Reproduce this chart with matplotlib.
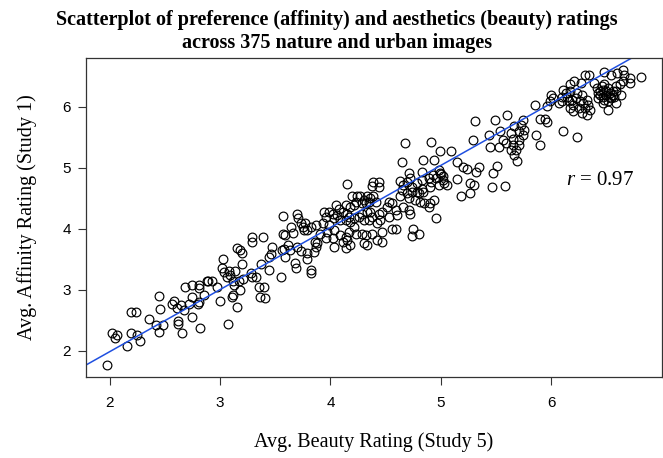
import matplotlib
matplotlib.use('Agg')
import matplotlib.pyplot as plt
import numpy as np

plt.rcParams['mathtext.fontset'] = 'custom'
plt.rcParams['mathtext.it'] = 'Liberation Serif:italic'
plt.rcParams['mathtext.rm'] = 'Liberation Serif'

# (beauty, affinity) pairs, grouped along the band
low_band = [(1.98, 1.76), (2.02, 2.29), (2.07, 2.26), (2.05, 2.20), (2.19, 2.64), (2.24, 2.64),
            (2.16, 2.08), (2.19, 2.28), (2.25, 2.25), (2.28, 2.15), (2.36, 2.52), (2.42, 2.42),
            (2.45, 2.89), (2.46, 2.68), (2.45, 2.31), (2.48, 2.42), (2.58, 2.81), (2.57, 2.76),
            (2.61, 2.70), (2.65, 2.75), (2.67, 2.66), (2.62, 2.48), (2.62, 2.43), (2.66, 2.29),
            (2.68, 3.05), (2.75, 3.08), (2.81, 3.08), (2.81, 3.02), (2.88, 3.14), (2.75, 2.88),
            (2.72, 2.77), (2.80, 2.77), (2.81, 2.79), (2.75, 2.55), (2.82, 2.37), (2.86, 2.92)]

mid_low_band = [(2.89, 3.15), (2.93, 3.15), (2.97, 3.05), (3.00, 2.82), (3.03, 3.51), (3.02, 3.36),
                (3.04, 3.29), (3.06, 3.20), (3.09, 3.24), (3.08, 3.31), (3.12, 3.15), (3.14, 3.31),
                (3.15, 3.68), (3.18, 3.65), (3.20, 3.60), (3.20, 3.42), (3.17, 3.15), (3.21, 3.18),
                (3.13, 3.07), (3.18, 2.99), (3.12, 2.91), (3.11, 2.88), (3.15, 2.72), (3.07, 2.43),
                (3.29, 3.87), (3.29, 3.78), (3.39, 3.86), (3.28, 3.27), (3.29, 3.20), (3.33, 3.21),
                (3.37, 3.42), (3.44, 3.32), (3.47, 3.70), (3.46, 3.58), (3.44, 3.53), (3.35, 3.04),
                (3.40, 3.04), (3.36, 2.88), (3.41, 2.86), (3.57, 4.21), (3.57, 3.92), (3.59, 3.89),
                (3.56, 3.65), (3.58, 3.66), (3.64, 4.03), (3.66, 3.93), (3.70, 4.25), (3.71, 4.17),
                (3.73, 4.09), (3.75, 4.03), (3.77, 4.10), (3.82, 4.03), (3.62, 3.73), (3.63, 3.65),
                (3.70, 3.70), (3.59, 3.54), (3.55, 3.21), (3.68, 3.43), (3.69, 3.35), (3.79, 3.51),
                (3.82, 3.32), (3.82, 3.27), (3.86, 3.78), (3.88, 3.76), (3.87, 3.70), (3.85, 3.62),
                (3.76, 3.98), (3.79, 3.98), (3.73, 3.64), (3.79, 3.60)]

mid_band = [(4.15, 4.73), (4.39, 4.76), (4.44, 4.77), (4.38, 4.70), (4.44, 4.68), (4.20, 4.53),
            (4.24, 4.53), (4.27, 4.53), (4.30, 4.47), (4.33, 4.53), (4.36, 4.50), (4.39, 4.53),
            (4.41, 4.44), (4.35, 4.44), (4.32, 4.42), (4.29, 4.42), (4.23, 4.44), (4.21, 4.39),
            (4.18, 4.36), (4.14, 4.39), (4.05, 4.39), (4.08, 4.33), (3.99, 4.28), (3.94, 4.28),
            (3.96, 4.20), (4.02, 4.25), (4.06, 4.22), (4.11, 4.28), (4.15, 4.25), (4.03, 4.17),
            (4.09, 4.14), (4.14, 4.14), (4.17, 4.20), (4.18, 4.11), (4.21, 4.17), (4.26, 4.20),
            (4.29, 4.25), (4.33, 4.28), (4.36, 4.28), (4.30, 4.14), (4.35, 4.14), (4.38, 4.20),
            (4.44, 4.25), (4.47, 4.28), (4.51, 4.36), (4.53, 4.44), (4.56, 4.42), (4.59, 4.31),
            (4.53, 4.20), (4.45, 4.14), (4.42, 4.09), (3.87, 4.06), (3.93, 4.09), (3.99, 4.06),
            (4.03, 3.98), (3.97, 3.95), (3.91, 3.92), (3.96, 3.84), (4.02, 3.84), (4.09, 3.89),
            (4.14, 3.87), (4.17, 3.95), (4.21, 4.03), (4.23, 3.92), (4.29, 3.92), (4.32, 3.89),
            (4.38, 3.92), (4.47, 3.95), (4.56, 4.00), (4.59, 4.00), (4.30, 3.76), (4.33, 3.73),
            (4.42, 3.81), (4.47, 3.78), (4.11, 3.78), (4.15, 3.81), (4.18, 3.73), (4.03, 3.70),
            (4.14, 3.68)]

mid_high_band = [(4.68, 5.41), (4.91, 5.43), (4.65, 5.10), (4.84, 5.13), (4.94, 5.13), (4.71, 4.91),
                 (4.63, 4.78), (4.72, 4.83), (4.69, 4.77), (4.66, 4.72), (4.74, 4.69), (4.78, 4.75),
                 (4.83, 4.80), (4.89, 4.83), (4.93, 4.88), (4.98, 4.97), (4.99, 4.91), (5.02, 4.86),
                 (4.96, 4.83), (4.91, 4.77), (4.98, 4.72), (5.03, 4.75), (5.06, 4.72), (4.90, 4.69),
                 (4.83, 4.66), (4.78, 4.61), (4.84, 4.61), (4.80, 4.58), (4.74, 4.61), (4.69, 4.58),
                 (4.65, 4.64), (4.63, 4.53), (4.71, 4.50), (4.77, 4.47), (4.81, 4.44), (4.85, 4.42),
                 (4.90, 4.42), (4.94, 4.47), (4.66, 4.36), (4.71, 4.31), (4.72, 4.25), (4.96, 4.17),
                 (4.89, 4.36), (4.60, 4.22), (4.75, 4.00), (4.80, 3.92), (4.74, 3.88), (4.83, 4.94),
                 (4.99, 5.28), (5.09, 5.27), (5.00, 4.90), (5.02, 4.80)]

high_band = [(5.85, 6.04), (5.90, 5.80), (5.94, 5.80), (5.74, 5.79), (5.66, 5.68), (5.73, 5.71),
             (5.60, 5.86), (5.49, 5.79), (5.31, 5.77), (5.64, 5.58), (5.71, 5.61), (5.75, 5.62),
             (5.74, 5.54), (5.54, 5.60), (5.56, 5.46), (5.53, 5.35), (5.59, 5.41), (5.44, 5.54),
             (5.45, 5.35), (5.86, 5.54), (5.90, 5.38), (5.65, 5.47), (5.65, 5.38), (5.71, 5.46),
             (5.71, 5.38), (5.68, 5.29), (5.64, 5.29), (5.66, 5.21), (5.69, 5.12), (5.29, 5.45),
             (5.15, 5.10), (5.20, 5.02), (5.24, 4.98), (5.32, 4.94), (5.35, 5.02), (5.15, 4.81),
             (5.26, 4.75), (5.30, 4.72), (5.26, 4.58), (5.18, 4.53), (5.51, 5.03), (5.47, 4.91),
             (5.46, 4.68), (5.58, 4.70), (5.96, 6.02), (5.96, 5.75)]

top_band = [(6.81, 6.49), (6.00, 6.20), (6.02, 6.15), (5.99, 6.10), (6.11, 5.61), (6.23, 5.50),
            (6.31, 6.52), (6.34, 6.52), (6.48, 6.57), (6.54, 6.53), (6.60, 6.56), (6.65, 6.61),
            (6.66, 6.53), (6.71, 6.48), (6.71, 6.39), (6.65, 6.42), (6.62, 6.37), (6.59, 6.34),
            (6.17, 6.37), (6.27, 6.39), (6.17, 6.26), (6.13, 6.23), (6.10, 6.17), (6.14, 6.17),
            (6.16, 6.09), (6.19, 6.12), (6.22, 6.15), (6.23, 6.23), (6.28, 6.20), (6.26, 6.09),
            (6.20, 6.04), (6.17, 5.98), (6.20, 5.93), (6.25, 5.98), (6.29, 6.06), (6.32, 6.12),
            (6.33, 6.04), (6.35, 5.95), (6.31, 5.98), (6.32, 5.87), (6.07, 6.06), (6.10, 6.09),
            (6.28, 5.90), (6.41, 6.31), (6.44, 6.26), (6.47, 6.28), (6.50, 6.26), (6.53, 6.23),
            (6.56, 6.26), (6.44, 6.20), (6.47, 6.17), (6.50, 6.20), (6.53, 6.17), (6.56, 6.20),
            (6.42, 6.15), (6.48, 6.12), (6.51, 6.09), (6.54, 6.15), (6.57, 6.17), (6.63, 6.20),
            (6.59, 6.26), (6.47, 6.06), (6.51, 5.95), (6.59, 6.06), (6.42, 6.23), (6.46, 6.34),
            (6.48, 6.37), (6.51, 6.31), (6.39, 6.39), (6.21, 6.42), (6.11, 6.28)]

x_ticks = [2, 3, 4, 5, 6]
y_ticks = [2, 3, 4, 5, 6]
r_value = 0.97
# fitted line as drawn in the chart
fit_intercept = -0.06
fit_slope = 1.02

pts = np.array(low_band + mid_low_band + mid_band + mid_high_band + high_band + top_band)
beauty = pts[:, 0]
affinity = pts[:, 1]

fig = plt.figure(figsize=(6.63, 4.58), dpi=100)
ax = fig.add_axes([0.1297, 0.1769, 0.8688, 0.6965])

ax.plot(beauty, affinity, 'o', mfc='none', mec='black', ms=6.3, mew=0.85)

# R style limits: 4% padding on the data range
xr = beauty.max() - beauty.min()
yr = affinity.max() - affinity.min()
ax.set_xlim(beauty.min() - 0.04 * xr, beauty.max() + 0.04 * xr)
ax.set_ylim(affinity.min() - 0.04 * yr, affinity.max() + 0.04 * yr)

ax.axline((0, fit_intercept), slope=fit_slope, color='#1f4fe0', lw=1.1)

ax.text(6.13, 4.8, r'$r$ = ' + str(r_value), fontsize=15, family='Liberation Serif', va='center')

ax.set_xticks(x_ticks)
ax.set_yticks(y_ticks)
ax.tick_params(direction='out', length=6, width=0.8, color='#333333', labelsize=11)
ax.tick_params(axis='x', pad=8)
ax.tick_params(axis='y', pad=5)
for lab in ax.get_xticklabels() + ax.get_yticklabels():
    lab.set_family('Liberation Sans')
for sp in ax.spines.values():
    sp.set_color('#333333')
    sp.set_linewidth(0.9)

ax.set_xlabel('Avg. Beauty Rating (Study 5)', fontsize=14.5, family='Liberation Serif', labelpad=16)
ax.set_ylabel('Avg. Affinity Rating (Study 1)', fontsize=14.5, family='Liberation Serif', labelpad=18)

fig.text(0.508, 0.978, 'Scatterplot of preference (affinity) and aesthetics (beauty) ratings\nacross 375 nature and urban images',
         ha='center', va='top', fontsize=14.5, fontweight='bold', family='Liberation Serif', linespacing=1.2)

plt.savefig('out.png', dpi=100)
